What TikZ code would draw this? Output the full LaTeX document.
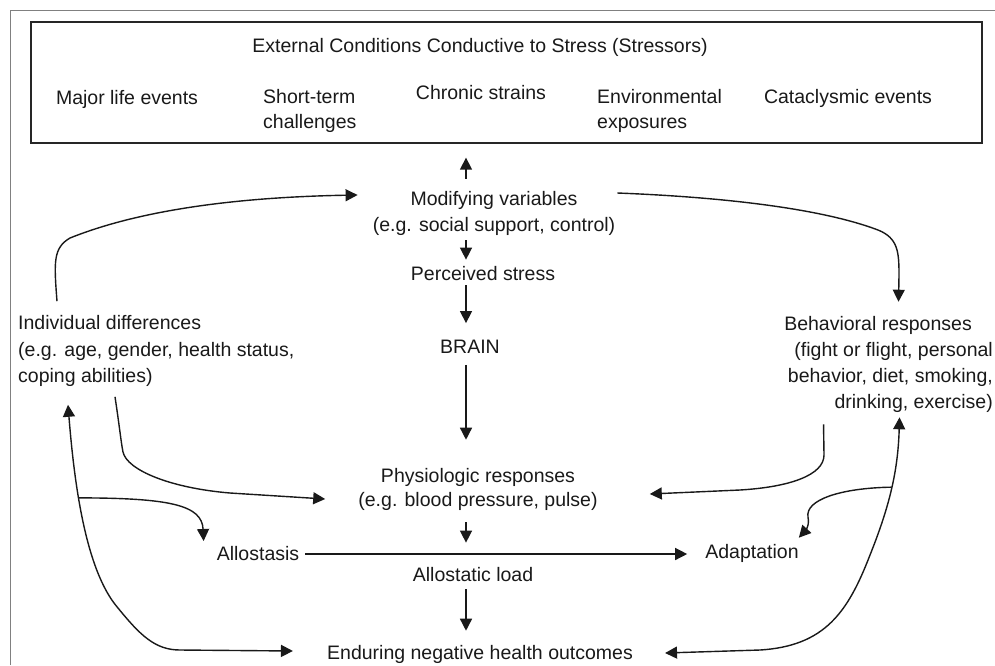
\documentclass[tikz,border=0pt]{standalone}
\usepackage{fontspec}
\setmainfont{Liberation Sans}
\usetikzlibrary{arrows.meta,positioning}

\begin{document}
\begin{tikzpicture}[
		x=1pt, y=-1pt,
		txt/.style={inner sep=0pt, font=\fontsize{19.5}{26}\selectfont, text=black!90},
		stressbox/.style={rectangle, draw=black!85, line width=1.3pt, minimum width=951pt, minimum height=121pt, inner sep=0pt},
		arrow/.style={-{Triangle[length=12pt,width=12pt]}, line width=1.4pt, black!90},
		twoway/.style={{Triangle[length=12pt,width=12pt]}-{Triangle[length=12pt,width=12pt]}, line width=1.4pt, black!90},
		frame/.style={draw=black!50, line width=1pt}
		]
		\useasboundingbox (0,0) rectangle (995,665);

		% Outer frame (cut off at right and bottom)
		\draw[frame] (10,665) -- (10,10) -- (995,10);

		% Stressors box
		\node[stressbox] (stressors) at (506.5,82.5) {};
		\node[txt] (title) at (480,47) {External Conditions Conductive to Stress (Stressors)};
		\node[txt] (major) at (127,99) {Major life events};
		\node[txt, anchor=west, align=left, font=\fontsize{19.5}{25}\selectfont] (short) at (263,111) {Short-term\\challenges};
		\node[txt] (chronic) at (481,93) {Chronic strains};
		\node[txt, anchor=west, align=left, font=\fontsize{19.5}{25}\selectfont] (environ) at (597,111) {Environmental\\exposures};
		\node[txt] (cata) at (848,98) {Cataclysmic events};

		% Centre column
		\coordinate (axis) at (466,0);
		\node[txt, align=center] (modvar) at (494,213) {Modifying variables\\(e.g. social support, control)};
		\node[txt] (perc) at (483,274) {Perceived stress};
		\node[txt] (brain) at (470,347) {BRAIN};
		\node[txt, align=center, font=\fontsize{19.5}{24}\selectfont] (physio) at (478,489) {Physiologic responses\\(e.g. blood pressure, pulse)};
		\node[txt] (allostasis) at (258,554) {Allostasis};
		\node[txt] (adapt) at (752,553) {Adaptation};
		\node[txt] (aload) at (473,575) {Allostatic load};
		\node[txt] (endure) at (480,654) {Enduring negative health outcomes};

		% Side blocks
		\node[txt, anchor=west, align=left, font=\fontsize{19.5}{26.5}\selectfont] (indiv) at (18,351) {Individual differences\\(e.g. age, gender, health status,\\coping abilities)};
		\node[txt, anchor=east, align=right] (behav) at (993,364) {Behavioral responses\hspace*{21pt}\\(fight or flight, personal\\behavior, diet, smoking,\\drinking, exercise)};

		% Arrows down the centre column
		\draw[arrow, shorten <=12pt, shorten >=14pt] (modvar.north -| axis) -- (stressors.south -| axis);
		\draw[arrow, shorten <=5pt, shorten >=7pt] (modvar.south -| axis) -- (perc.north -| axis);
		\draw[arrow, shorten <=4pt, shorten >=17pt] (perc.south -| axis) -- (brain.north -| axis);
		\draw[arrow, shorten <=11pt, shorten >=28pt] (brain.south -| axis) -- (physio.north -| axis);
		\draw[arrow, shorten <=12pt, shorten >=25pt] (physio.south -| axis) -- (aload.north -| axis);
		\draw[arrow, shorten <=7pt, shorten >=14pt] (aload.south -| axis) -- (endure.north -| axis);

		% Allostasis to adaptation
		\draw[arrow, shorten <=6pt, shorten >=18pt] (allostasis.east) -- (allostasis.east -| adapt.west);

		% Individual differences to modifying variables
		\draw[arrow] ([xshift=39pt,yshift=14pt]indiv.north west) .. controls (54,262) and (53,248) .. (70,238) .. controls (110,222) and (190,198) .. ([xshift=-15pt,yshift=18pt]modvar.west);

		% Modifying variables to behavioral responses
		\draw[arrow] ([xshift=2pt,yshift=20pt]modvar.east) .. controls (720,197) and (820,208) .. (878,230) .. controls (898,238) and (899,252) .. (899,275) -- ([xshift=10pt,yshift=14pt]behav.north);

		% Into physiologic responses
		\draw[arrow] ([xshift=97pt,yshift=-10pt]indiv.south west) .. controls (120,430) and (121,442) .. (123,452) .. controls (127,470) and (170,488) .. (230,493) -- ([xshift=-33pt,yshift=-10pt]physio.west);
		\draw[arrow] ([xshift=-65pt,yshift=-12pt]behav.south) -- (824,455) .. controls (824,475) and (790,487) .. (740,490) -- ([xshift=52pt,yshift=-5pt]physio.east);

		% Left loop with branch to allostasis
		\draw[twoway] ([xshift=50pt,yshift=-18pt]indiv.south west) .. controls (74,480) and (85,570) .. (118,608) coordinate[pos=0.4] (lsplit) .. controls (140,635) and (155,650) .. (180,650) -- ([xshift=-34pt,yshift=3pt]endure.west);
		\draw[arrow] (lsplit) .. controls (170,498) and (202,505) .. ([xshift=-13pt,yshift=13pt]allostasis.west);

		% Right loop with branch to adaptation
		\draw[twoway] ([xshift=11pt,yshift=-5pt]behav.south) .. controls (898,470) and (890,505) .. (870,555) coordinate[pos=0.5] (rsplit) .. controls (848,612) and (825,646) .. (760,650) -- ([xshift=32pt,yshift=1pt]endure.east);
		\draw[arrow] (rsplit) .. controls (840,488) and (805,500) .. (808,517) .. controls (810,527) and (804,532) .. ([yshift=6pt]adapt.north east);

	\end{tikzpicture}
\end{document}
